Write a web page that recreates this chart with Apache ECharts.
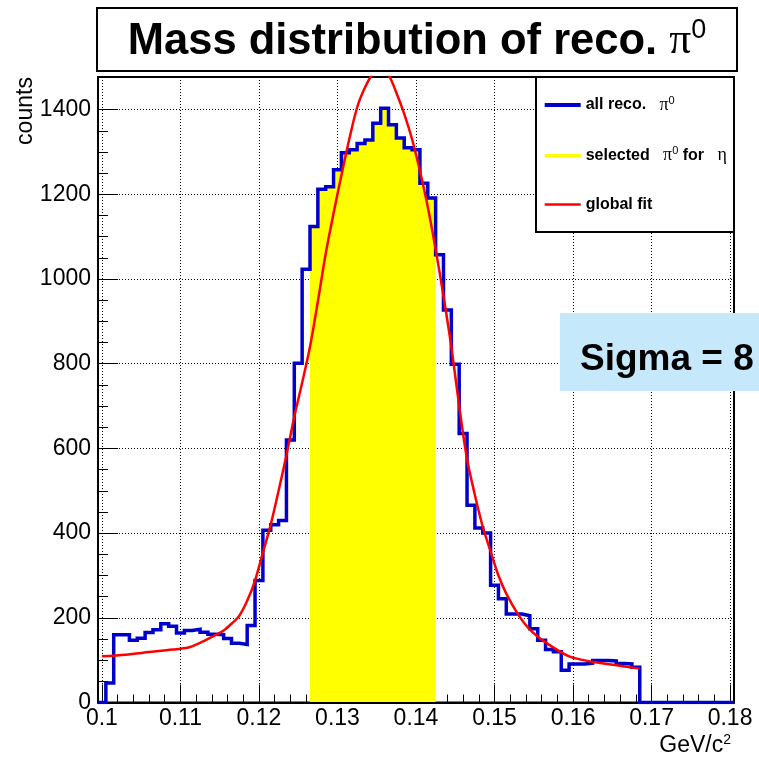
<!DOCTYPE html>
<html><head><meta charset="utf-8">
<script src="https://cdn.jsdelivr.net/npm/echarts@6/dist/echarts.min.js"></script>
<style>html,body{margin:0;padding:0;background:#fff}#c{width:759px;height:761px}</style>
</head><body><div id="c"></div>
<script>
// ---------- data ----------
// histogram: 81 bins of width 0.001 GeV, first bin from 0.0995 (centres 0.100 ... 0.180)
const binStart = 0.0995;
const binWidth = 0.001;
const allCounts = [
  0, 46, 160, 160, 147, 152, 165, 172, 186, 180,
  164, 170, 173, 166, 161, 160, 151, 140, 137, 182,
  288, 407, 420, 430, 620, 801, 1023, 1124, 1212, 1218,
  1258, 1298, 1305, 1320, 1328, 1368, 1403, 1364, 1333, 1310,
  1305, 1226, 1191, 1057, 927, 799, 635, 466, 412, 400,
  277, 245, 209, 209, 205, 174, 147, 125, 120, 76,
  91, 91, 93, 99, 99, 98, 92, 91, 83, 0,
  0, 0, 0, 0, 0, 0, 0, 0, 0, 0, 0
];
// selected pi0 mass window (GeV)
const selLow = 0.1265;
const selHigh = 0.1425;
// global fit curve
const fitX = [0.1000,0.1030,0.1060,0.1090,0.1110,0.1125,0.1140,0.1155,0.1165,0.1175,
  0.1185,0.1195,0.1205,0.1215,0.1225,0.1235,0.1245,0.1255,0.1265,0.1275,
  0.1285,0.1295,0.1305,0.1315,0.1325,0.1335,0.1345,0.1355,0.1365,0.1375,
  0.1385,0.1395,0.1405,0.1415,0.1425,0.1435,0.1445,0.1455,0.1465,0.1475,
  0.1485,0.1495,0.1505,0.1515,0.1530,0.1545,0.1565,0.1595,0.1625,0.1655,0.1685];
const fitY = [109,113,119,125,130,141,155,170,186,205,
  240,288,354,420,500,584,675,755,840,947,
  1060,1155,1245,1330,1405,1452,1485,1497,1482,1440,
  1390,1330,1255,1170,1070,960,840,700,575,490,
  415,357,300,257,208,172,142,109,96,88,80];
// axes
const xTickLabels = [0.1,0.11,0.12,0.13,0.14,0.15,0.16,0.17,0.18];
const yTickLabels = [0,200,400,600,800,1000,1200,1400];
const legendNames = ['all reco.', 'selected', 'global fit'];

// ---------- layout ----------
const W = 759, H = 761;
const gL = 98, gR = 25, gT = 77, gB = 58.5;
const xMin = binStart, xMax = +(binStart + allCounts.length * binWidth).toFixed(4), yMax = 1477;
const plotW = W - gL - gR, plotH = H - gT - gB;
const xT0 = xTickLabels[0], xT1 = xTickLabels[xTickLabels.length - 1];
const yT1 = yTickLabels[yTickLabels.length - 1];
const g1L = gL + (xT0 - xMin) / (xMax - xMin) * plotW;
const g1R = gR + (xMax - xT1) / (xMax - xMin) * plotW;
const g2T = gT + (yMax - yT1) / yMax * plotH;

const edge = i => +(binStart + i * binWidth).toFixed(4);
const blueData = allCounts.map((v, i) => [edge(i), v]);
blueData.push([edge(allCounts.length), allCounts[allCounts.length - 1]]);
const yellowData = [];
let lastSel = 0;
allCounts.forEach((v, i) => {
  if (edge(i) >= selLow - 1e-7 && edge(i + 1) <= selHigh + 1e-7) { yellowData.push([edge(i), v]); lastSel = v; }
});
yellowData.push([selHigh, lastSel]);
const fitData = fitX.map((x, i) => [x, fitY[i]]);

const SANS = "'Liberation Sans', Arial, Helvetica, sans-serif";
const SERIF = "'Liberation Serif', 'Times New Roman', serif";
const dotted = { color: '#000', width: 1, type: [1, 2] };
const blk = { color: '#000', width: 1 };
const plain = v => String(+v.toFixed(4));

const chart = echarts.init(document.getElementById('c'), null, { renderer: 'canvas' });
chart.setOption({
  animation: false,
  backgroundColor: '#fff',
  grid: [
    { left: gL, right: gR, top: gT, bottom: gB, show: true, borderColor: '#000', borderWidth: 2, backgroundColor: 'transparent' },
    { left: g1L, right: g1R, top: gT, bottom: gB },
    { left: gL, right: gR, top: g2T, bottom: gB }
  ],
  xAxis: [
    { gridIndex: 0, type: 'value', min: xMin, max: xMax, z: 2,
      axisLine: { show: true, lineStyle: { color: '#000', width: 2 } },
      axisTick: { show: false }, axisLabel: { show: false }, splitLine: { show: false } },
    { gridIndex: 1, type: 'value', min: xT0, max: xT1, interval: 0.01,
      axisLine: { show: false },
      axisTick: { show: true, inside: true, length: 18, lineStyle: blk },
      minorTick: { show: true, splitNumber: 5, length: 8, lineStyle: blk },
      axisLabel: { show: true, fontSize: 23, color: '#000', fontFamily: SANS, margin: 5, formatter: plain },
      splitLine: { show: true, lineStyle: dotted } },
    { gridIndex: 2, type: 'value', min: xMin, max: xMax, show: false }
  ],
  yAxis: [
    { gridIndex: 0, type: 'value', min: 0, max: yMax, z: 2,
      axisLine: { show: true, lineStyle: { color: '#000', width: 2 } },
      axisTick: { show: false }, axisLabel: { show: false }, splitLine: { show: false } },
    { gridIndex: 1, type: 'value', min: 0, max: yMax, show: false },
    { gridIndex: 2, type: 'value', min: 0, max: yT1, interval: 200,
      axisLine: { show: false },
      axisTick: { show: true, inside: true, length: 20, lineStyle: blk },
      minorTick: { show: true, splitNumber: 4, length: 10, lineStyle: blk },
      axisLabel: { show: true, fontSize: 23, color: '#000', fontFamily: SANS, margin: 7, formatter: plain },
      splitLine: { show: true, lineStyle: dotted } }
  ],
  legend: {
    left: 537.7, top: 90, orient: 'vertical', itemWidth: 36, itemHeight: 4, itemGap: 31.7,
    selectedMode: false, z: 10,
    itemStyle: { opacity: 0 },
    data: [
      { name: legendNames[0], itemStyle: { opacity: 0 }, lineStyle: { color: '#0000cc', width: 4, opacity: 1 } },
      { name: legendNames[1], itemStyle: { opacity: 0 }, lineStyle: { color: '#ffff00', width: 3.5, opacity: 1 } },
      { name: legendNames[2], itemStyle: { opacity: 0 }, lineStyle: { color: '#ff0000', width: 2.5, opacity: 1 } }
    ],
    formatter: function (name) {
      if (name === legendNames[0]) return '{b|all reco.   }{p|π}{s|0}';
      if (name === legendNames[1]) return '{b|selected   }{p|π}{s|0}{b| for   }{p|η}';
      return '{b|global fit}';
    },
    textStyle: {
      color: '#000',
      rich: {
        b: { fontFamily: SANS, fontWeight: 'bold', fontSize: 16, lineHeight: 20, color: '#000' },
        p: { fontFamily: SERIF, fontSize: 18, lineHeight: 20, color: '#000' },
        s: { fontFamily: SANS, fontSize: 11, lineHeight: 12, verticalAlign: 'top', color: '#000' }
      }
    }
  },
  graphic: [
    { type: 'rect', z: 5, shape: { x: 97, y: 8, width: 640, height: 63 }, style: { fill: '#fff', stroke: '#000', lineWidth: 2 } },
    { type: 'text', z: 6, x: 417, y: 42,
      style: { text: '{t|Mass distribution of reco. }{p|π}{s|0}', align: 'center', verticalAlign: 'middle',
        rich: {
          t: { fontFamily: SANS, fontWeight: 'bold', fontSize: 43.5, lineHeight: 50, fill: '#000' },
          p: { fontFamily: SERIF, fontSize: 43.5, lineHeight: 50, fill: '#000' },
          s: { fontFamily: SANS, fontSize: 27, lineHeight: 32, verticalAlign: 'top', fill: '#000' }
        } } },
    { type: 'rect', z: 5, shape: { x: 536, y: 77, width: 198, height: 155 }, style: { fill: '#fff', stroke: '#000', lineWidth: 2 } },
    { type: 'rect', z: 5, shape: { x: 560, y: 313, width: 199, height: 78 }, style: { fill: '#c5e9fb' } },
    { type: 'text', z: 6, x: 580, y: 360,
      style: { text: 'Sigma = 8', fontFamily: SANS, fontWeight: 'bold', fontSize: 37, fill: '#000', align: 'left', verticalAlign: 'middle' } },
    { type: 'text', z: 6, x: 26, y: 111, rotation: Math.PI / 2,
      style: { text: 'counts', fontFamily: SANS, fontSize: 23, fill: '#000', align: 'center', verticalAlign: 'middle' } },
    { type: 'text', z: 6, x: 731, y: 746,
      style: { text: '{a|GeV/c}{s|2}', align: 'right', verticalAlign: 'middle',
        rich: {
          a: { fontFamily: SANS, fontSize: 23, lineHeight: 26, fill: '#000' },
          s: { fontFamily: SANS, fontSize: 14, lineHeight: 16, verticalAlign: 'top', fill: '#000' }
        } } }
  ],
  series: [
    { name: legendNames[1], type: 'line', xAxisIndex: 0, yAxisIndex: 0, step: 'end', data: yellowData,
      symbol: 'none', showSymbol: false, color: '#ffff00', z: 1,
      lineStyle: { width: 0, opacity: 0 }, areaStyle: { color: '#ffff00', opacity: 1 } },
    { name: legendNames[0], type: 'line', xAxisIndex: 0, yAxisIndex: 0, step: 'end', data: blueData,
      symbol: 'none', showSymbol: false, color: '#0000cc', z: 3,
      lineStyle: { color: '#0000cc', width: 3.5, join: 'miter', cap: 'butt' } },
    { name: legendNames[2], type: 'line', xAxisIndex: 0, yAxisIndex: 0, data: fitData, smooth: 0.3,
      symbol: 'none', showSymbol: false, color: '#ff0000', z: 4, clip: true,
      lineStyle: { color: '#ff0000', width: 2.5 } }
  ]
});
</script></body></html>
